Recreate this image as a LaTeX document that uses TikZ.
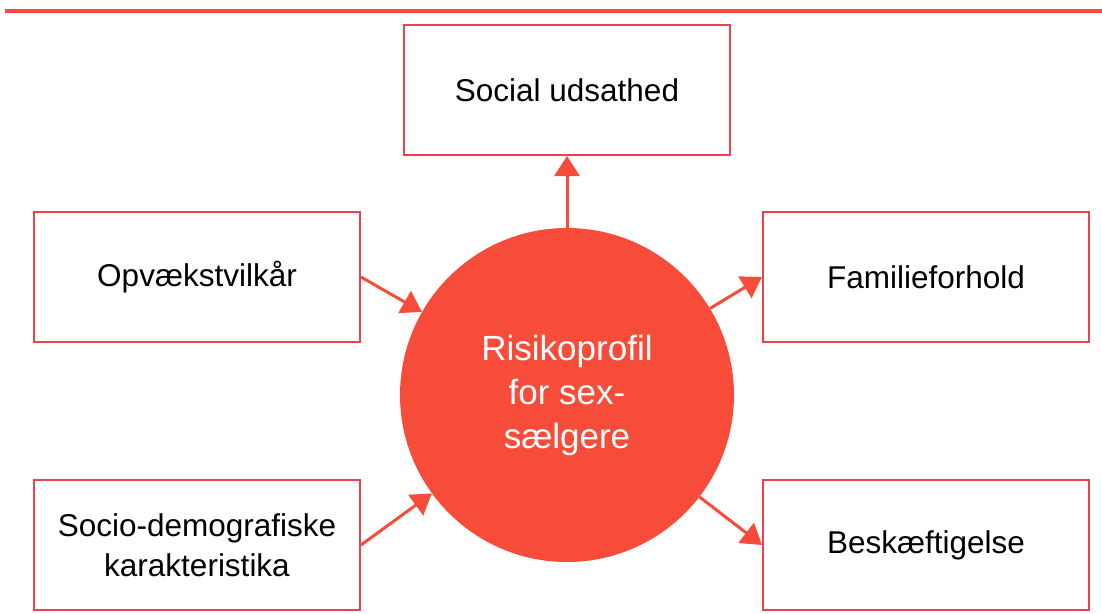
\documentclass[tikz,border=0pt]{standalone}
\usepackage{fontspec}
\setmainfont{Liberation Sans}
\usetikzlibrary{arrows.meta}
\definecolor{circred}{HTML}{F84C3B}
\definecolor{boxred}{HTML}{E8434F}
\begin{document}
\begin{tikzpicture}[x=1pt,y=-1pt,
  factor/.style={draw=boxred, line width=2pt, minimum width=326pt, minimum height=130pt,
    align=center, inner sep=0pt, font=\fontsize{31.5}{40}\selectfont, text=black},
  conn/.style={draw=circred, line width=3pt, -{Triangle[length=20pt,width=25pt]}}]
\useasboundingbox (0,0) rectangle (1102,613);
\draw[circred, line width=4pt] (5,11) -- (1102,11);
\node[factor] (social) at (567,90) {Social udsathed};
\node[factor] (opv) at (197,277) {Opvækstvilkår};
\node[factor] (fam) at (926,277) {Familieforhold};
\node[factor] (socio) at (197,545) {Socio-demografiske\\karakteristika};
\node[factor] (besk) at (926,545) {Beskæftigelse};
\node[circle, fill=circred, minimum size=334pt, inner sep=0pt, align=center,
  text=white, font=\fontsize{35}{44}\selectfont] (circ) at (567,395)
  {Risikoprofil\\for sex-\\sælgere};
\draw[conn] (circ.north) -- (social.south);
\draw[conn] (opv.east) -- (circ);
\draw[conn] (socio.east) -- (circ);
\draw[conn] (circ) -- (fam.west);
\draw[conn] (circ) -- (besk.west);
\end{tikzpicture}
\end{document}
